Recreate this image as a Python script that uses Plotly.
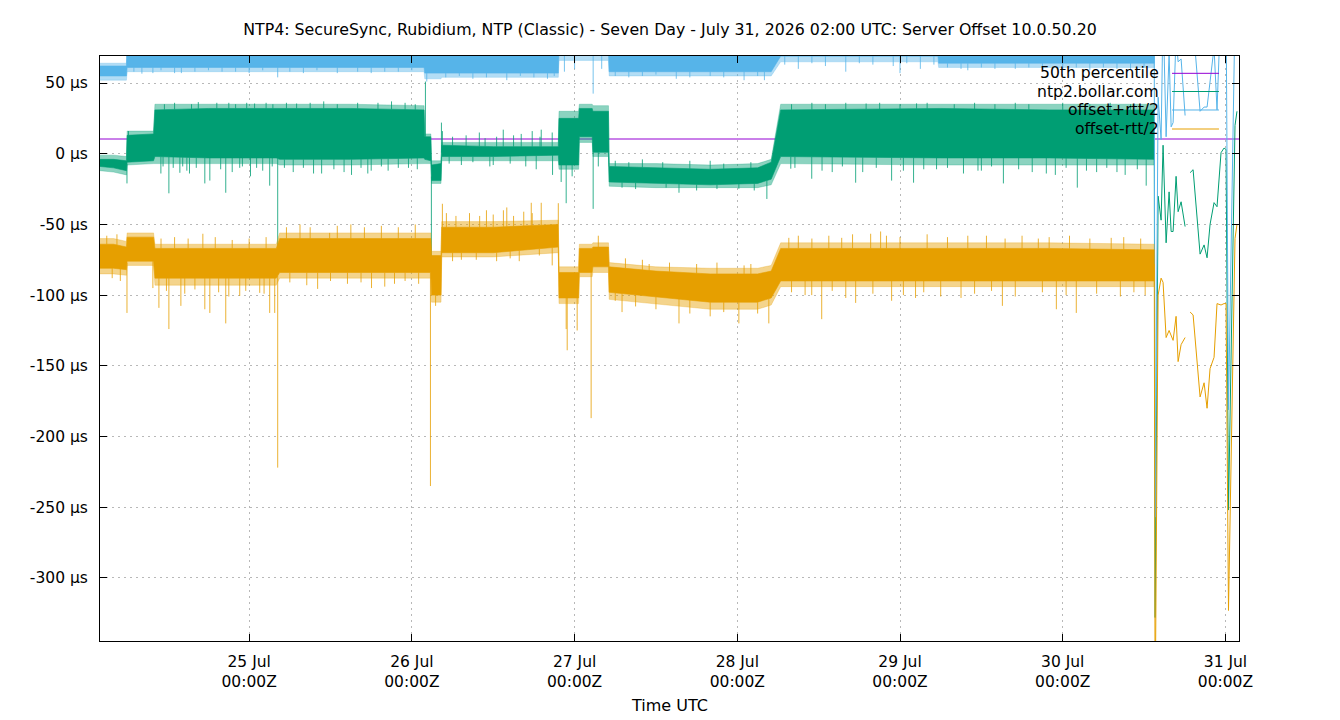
import numpy as np
import plotly.graph_objects as go

TITLE = ("NTP4: SecureSync, Rubidium, NTP (Classic) - Seven Day - "
         "July 31, 2026 02:00 UTC: Server Offset 10.0.50.20")

# time axis: hours since 2026-07-24 02:00 UTC
x_ticks = [22, 46, 70, 94, 118, 142, 166]
x_tick_labels = ["25 Jul<br>00:00Z", "26 Jul<br>00:00Z", "27 Jul<br>00:00Z",
                 "28 Jul<br>00:00Z", "29 Jul<br>00:00Z", "30 Jul<br>00:00Z",
                 "31 Jul<br>00:00Z"]
y_ticks = [50, 0, -50, -100, -150, -200, -250, -300]
y_tick_labels = ["50 µs", "0 µs", "-50 µs", "-100 µs", "-150 µs", "-200 µs",
                 "-250 µs", "-300 µs"]

p50_value = 10.4  # µs, 50th percentile

# ---------- ntp2.bollar.com offset (µs): dense band envelope ----------
green_t = [0, 2, 3.9, 4.0, 7.9, 8.1, 16, 26.0, 26.5, 37, 47.8, 47.9, 48.8, 48.9,
           50.3, 50.4, 58, 67.6, 67.7, 70.6, 70.7, 72.6, 72.7, 75.0, 75.1, 82,
           90, 97, 99.0, 100.4, 124, 140, 155.5]
green_lo = [-9, -10, -12, -6, -5, -2, -3, -3, -4, -4, -3, -4, -5, -19, -19, -2,
            -2, -1, -8, -8, 12, 12, 1, 1, -20, -21, -22, -21, -18, -2, -3, -3, -4]
green_hi = [-4, -4, -5, 13, 14, 31, 32, 32, 32, 32, 31, 12, 12, -8, -7, 6, 5, 5,
            25, 25, 32, 32, 30, 30, -9, -10, -11, -10, -6, 31, 32, 31, 31]
green_olo = [-12, -13, -15, -8, -7, -7, -7, -7, -8, -8, -7, -7, -7, -21, -21, -5,
             -5, -5, -11, -11, 8, 8, -2, -2, -23, -24, -24, -24, -22, -7, -8, -8, -8]
green_ohi = [-1, -1, -2, 16, 16, 35, 35, 35, 35, 35, 34, 14, 14, -5, -5, 8, 8, 8,
             30, 30, 35, 35, 34, 34, -7, -7, -8, -7, -4, 35, 35, 35, 35]
green_spike_t = [3.98, 4.2, 8.98, 10.16, 11.78, 12.81, 15.46, 16.2, 18.55, 20.61,
                 24.0, 25.03, 17.23, 21.64, 26.21, 32.69, 37.1, 40.0, 44.0, 48.0,
                 48.88, 50.36, 50.5, 55.95, 59.48, 62.13, 63.75, 65.08, 66.7,
                 64.34, 66.75, 53.3, 57.5, 68.02, 68.76, 69.64, 72.74, 73.5, 85.4,
                 94.23, 98.36, 80, 90, 101.89, 104.98, 111.46, 116.76, 120.0,
                 123.39, 120.44, 127.36, 133.25, 139.58, 140.91, 144.15, 151.21,
                 154.31, 108, 130, 147,
                 9.5, 11, 13.5, 14.5, 19, 20, 22.8, 24.5, 25.5,
                 9.3, 10.8, 12.2, 13.2, 14.2, 17.8, 19.5, 21, 22.2, 23.1, 25.4,
                 27.5, 29, 31, 33, 35, 38, 41, 43, 45, 46.5,
                 27.2, 28.5, 30, 31.5, 34.5, 36, 38.5, 39.5, 41.5, 42.5, 45.5, 46.8,
                 52, 54, 56.8, 58.5, 61, 64.9, 51.5, 55, 58, 60.5, 62.8,
                 76, 78, 83, 87, 92, 96, 77, 79, 83.5, 88, 91, 96.5,
                 102, 105, 107, 110, 113, 115, 118, 122, 126, 129, 132, 135, 137,
                 142, 146, 149, 152,
                 102.5, 106.5, 109.5, 112.5, 114.5, 118.5, 121.5, 125, 129.5,
                 131.5, 135.5, 137.5, 142.5, 145.5, 148.5, 150, 153]
green_spike_v = [-21, 16, -14, -28, -13.5, -12, -21, -19, -27.6, -10, -12, -22.6,
                 36, 36, -85, -14, -15, -12, -10, 51, -84, 22, 16, 15, 17, 14, 16,
                 17, 15, -11, -15, -8, -9, -20, -35, -16, -39, -9, -27.6, -24.8,
                 -32, -4, -5, -10.6, -17.7, -20.5, -19, -20.5, -11, 35.6, -14, -21,
                 -14, -15, -24, -15, -22.6, -13, -12, -13,
                 35, 36, 35, 36.5, 36, 35, 35.5, 36, 35,
                 -9, -10, -9, -14, -10, -11, -13, -9, -16, -10, -9,
                 36, 35.5, 36, 37, 35, 36, 36, 37, 36, 35,
                 -10, -13, -10, -14, -11, -13, -10, -14, -9, -12, -10, -11,
                 12, 13, 11, 12, 13, 12, -7, -6, -8, -7, -9,
                 -5, -6, -6, -5, -7, -6, -24, -25, -24, -26, -25, -26,
                 35, 36, 35, 36, 35.5, 36, 35, 36, 35, 36, 35, 36, 35,
                 36, 35, 36, 35,
                 -10, -12, -9, -13, -10, -12, -11, -10, -12,
                 -9, -11, -13, -10, -12, -10, -13, -11]

# ---------- offset-rtt/2 (µs) ----------
orange_t = [0, 2, 3.9, 4.0, 7.9, 8.1, 16, 26.0, 26.5, 37, 48.8, 48.9, 50.3, 50.4,
            58, 67.6, 67.7, 70.6, 70.7, 72.6, 72.7, 75.0, 75.1, 82, 90, 97, 99.0,
            100.4, 124, 140, 155.5]
orange_lo = [-81, -81, -82, -76, -76, -88, -88, -88, -84, -84, -84, -100, -100,
             -70, -70, -66, -102, -102, -84, -84, -80, -80, -98, -101, -105, -105,
             -102, -90, -90, -90, -90]
orange_hi = [-64, -64, -66, -59, -59, -67, -67, -67, -60, -60, -60, -72, -72, -52,
             -52, -50, -84, -84, -67, -67, -66, -66, -80, -83, -85, -85, -83, -67,
             -67, -67, -68]
orange_olo = [-85, -85, -86, -79, -79, -93, -93, -93, -88, -88, -88, -105, -105,
              -73, -73, -70, -106, -106, -87, -87, -84, -84, -103, -106, -110,
              -110, -107, -94, -94, -94, -94]
orange_ohi = [-60, -60, -62, -56, -56, -64, -64, -64, -56, -56, -56, -69, -69, -48,
              -48, -47, -80, -80, -64, -64, -63, -63, -77, -80, -81, -81, -79, -63,
              -63, -63, -64]
orange_spike_t = [3.98, 7.8, 8.69, 10.16, 11.93, 15.46, 16.2, 18.55, 20.61, 23.56,
                  25.03, 25.77, 15.17, 26.21, 32.1, 33.87, 43.44, 40.05, 48.74,
                  49.5, 50.5, 51.09, 63.61, 63.75, 65.08, 67.6, 61.84, 66.7, 53.3,
                  57, 60, 68.76, 68.91, 70.38, 72.44, 73.5, 85.4, 94.23, 98.65, 81,
                  95, 77, 101.6, 106.45, 111.46, 116.76, 120.29, 104.98, 113.67,
                  115.14, 109.4, 130.75, 133.1, 141.06, 144.0, 149.15, 138.4,
                  154.16, 127, 136,
                  1, 2.5, 1.8, 3,
                  9, 11, 13, 17, 19.5, 22, 24.5, 9.8, 12.5, 14, 17.5, 19, 21.5, 24.2,
                  27.5, 29.5, 31, 35, 37, 39, 41.5, 44, 46.5,
                  28, 30.5, 34, 36.5, 38.5, 42, 45, 47,
                  52.5, 54.5, 56, 58, 59.5, 61, 62.5, 52, 55.5, 58.5, 60.5, 64.8,
                  77.5, 80, 84, 88, 91, 96, 76, 79, 82, 87, 90, 92, 97,
                  103, 105, 107.5, 111, 116, 118, 122, 125, 128, 133.5, 140, 143,
                  146, 151, 153.5,
                  102, 104, 108, 110, 114, 118.5, 121.5, 124, 129, 131.5, 135,
                  139, 142.5, 147, 150.5, 152.5]
orange_spike_v = [-112.6, -95, -109, -124, -107.6, -110, -112.6, -120, -100.6,
                  -98.4, -112.6, -112.6, -56.6, -222, -95.6, -56, -92, -95, -235,
                  -107.6, -35.4, -42, -34.7, -42, -34.7, -35, -76, -79, -75, -40,
                  -38, -124, -139, -125, -187, -58, -120, -120, -120, -78, -79,
                  -112, -59.5, -117, -105.5, -104, -102, -100, -56.6, -55, -59.5,
                  -58, -107.6, -110, -112.6, -59.5, -60, -100, -102, -58,
                  -58, -57, -88, -90,
                  -60, -59, -60, -59, -61, -60, -59, -97, -99, -96, -98, -101, -97,
                  -99,
                  -52, -50, -52, -51, -50, -52, -51, -52, -50,
                  -91, -93, -90, -92, -91, -94, -90, -92,
                  -44, -42, -44, -43, -40, -44, -41, -76, -75, -76, -74, -72,
                  -74, -75, -77, -78, -77, -78, -104, -108, -110, -113, -115, -112,
                  -113,
                  -58, -60, -58, -57, -58, -59, -57, -59, -58, -60, -59, -58,
                  -60, -59, -60,
                  -98, -100, -97, -102, -99, -100, -98, -101, -99, -97, -101,
                  -98, -100, -99, -101, -98]

# ---------- offset+rtt/2 (µs) ----------
blue_t = [0, 3.9, 4.0, 47.8, 47.9, 50.3, 50.4, 67.6, 67.7, 75.0, 75.1, 99.0,
          100.4, 123.6, 123.7, 155.5]
blue_lo = [55, 55, 61, 61, 57, 57, 57, 57, 72, 72, 58, 58, 69, 69, 64, 64]
blue_hi = [62, 62, 80, 80, 75, 75, 75, 75, 85, 85, 75, 75, 85, 85, 80, 80]
blue_olo = [52, 52, 58, 58, 53, 53, 54, 54, 66, 66, 55, 55, 65, 65, 61, 61]
blue_ohi = [64, 64, 82, 82, 80, 80, 78, 78, 88, 88, 78, 78, 88, 88, 85, 85]
blue_spike_t = [6.18, 7.8, 26.21, 12, 18, 35, 42, 48.2, 55, 60, 66, 68.5, 70,
                72.74, 74, 85, 95, 98, 103, 110, 118, 121, 128, 135, 142, 150,
                5, 9, 11, 14, 16, 20, 22, 24, 28, 30, 32, 38, 40, 44, 46,
                51, 53, 57, 62, 64, 67, 76, 78, 80, 82, 87, 90, 92, 97,
                101, 105, 107, 112, 114, 117, 119, 123,
                125, 127, 130, 132, 137, 139, 144, 146, 148, 152, 154]
blue_spike_v = [56.6, 57, 54, 57, 58, 57, 58, 51, 53, 52, 53, 58, 60, 42.5, 60, 53,
                52, 52, 60, 58, 57, 60, 59, 60, 59, 60,
                58, 59, 57, 58, 59, 58, 57, 59, 58, 57, 59, 58, 57, 58, 59,
                54, 55, 54, 55, 54, 55, 55, 54, 55, 56, 54, 55, 54, 55,
                63, 64, 62, 64, 63, 62, 64, 63,
                61, 60, 61, 60, 61, 60, 61, 59, 61, 60, 61]

# ---------- sparse samples at the end of the window ----------
tail_t = [155.5, 155.63, 156.07, 156.51, 156.80, 157.25, 157.69, 157.99, 158.28,
          158.72, 159.02, 159.46, 160.05, None, 160.79, 161.23, 162.26, 162.85,
          163.29, 163.73, 164.32, 164.76, 165.35, 165.79, 166.09, 166.45, 167.41,
          167.7]
green_tail = [14, -328, -30, -47, 6, -63, -27, -55, -55, -16, -41, -34, -51.5,
              None, -13.4, -11.3, -71, -64.5, -73.6, -50, -34.6, -37.5, 0.7, 4,
              3, -252, 20, 30]
orange_tail = [-78, -399, -100, -88, -91, -130, -125, -129, -132, -115, -147, -135,
               -130, None, -112, -114, -172, -162, -180, -152, -144, -106, -107,
               -106, -106, -323, -60, -50]
blue_tail = [70, -257, 40, 10, 103, 12, 71, 19, 22, 83, 65, 67, 27, None, 85, 91,
             30, 33, 33, 52, 75, 31, 108, 114, 112, -181, 100, 110]

C_P50 = "#9400d3"
C_GREEN = "#009e73"
C_BLUE = "#56b4e9"
C_ORANGE = "#e69f00"
FONT = "DejaVu Sans"


def rgba(hex_color, a):
    h = hex_color.lstrip("#")
    r, g, b = int(h[0:2], 16), int(h[2:4], 16), int(h[4:6], 16)
    return f"rgba({r},{g},{b},{a})"


def band_trace(t, lo, hi, color):
    xs = list(t) + list(t)[::-1]
    ys = list(hi) + list(lo)[::-1]
    return go.Scatter(x=xs, y=ys, mode="lines", fill="toself", fillcolor=color,
                      line=dict(width=0.6, color=color), hoverinfo="skip",
                      showlegend=False)


def spike_trace(st, sv, t, lo, hi, color):
    t = np.asarray(t, float)
    lo = np.asarray(lo, float)
    hi = np.asarray(hi, float)
    xs, ys = [], []
    for a, v in zip(st, sv):
        mid = np.interp(a, t, (lo + hi) / 2)
        base = np.interp(a, t, hi) if v > mid else np.interp(a, t, lo)
        xs += [a, a, None]
        ys += [float(base), v, None]
    return go.Scatter(x=xs, y=ys, mode="lines", line=dict(width=1, color=color),
                      hoverinfo="skip", showlegend=False)


def tail_trace(tt, tv, color):
    return go.Scatter(x=tt, y=tv, mode="lines", line=dict(width=1, color=color),
                      connectgaps=False, hoverinfo="skip", showlegend=False)


fig = go.Figure()

# 50th percentile (drawn first, under the data)
fig.add_trace(go.Scatter(x=[0, 168], y=[p50_value, p50_value], mode="lines",
                         line=dict(width=1, color=C_P50), showlegend=False))

series = [
    (C_GREEN, green_t, green_lo, green_hi, green_olo, green_ohi,
     green_spike_t, green_spike_v, green_tail),
    (C_BLUE, blue_t, blue_lo, blue_hi, blue_olo, blue_ohi,
     blue_spike_t, blue_spike_v, blue_tail),
    (C_ORANGE, orange_t, orange_lo, orange_hi, orange_olo, orange_ohi,
     orange_spike_t, orange_spike_v, orange_tail),
]
for color, t, lo, hi, olo, ohi, st, sv, tail in series:
    fig.add_trace(band_trace(t, olo, ohi, rgba(color, 0.45)))
    fig.add_trace(band_trace(t, lo, hi, color))
    fig.add_trace(spike_trace(st, sv, t, lo, hi, rgba(color, 0.8)))
    fig.add_trace(tail_trace(tail_t, tail, color))

# key (gnuplot style, top right inside the plot)
legend_names = ["50th percentile", "ntp2.bollar.com", "offset+rtt/2", "offset-rtt/2"]
legend_colors = [C_P50, C_GREEN, C_BLUE, C_ORANGE]
legend_rows_y = [0.9704, 0.9393, 0.9077, 0.8752]
shapes = []
annotations = []
for name, col, yy in zip(legend_names, legend_colors, legend_rows_y):
    annotations.append(dict(text=name, xref="paper", yref="paper", x=0.9315, y=yy,
                            xanchor="right", yanchor="middle", showarrow=False,
                            font=dict(family=FONT, size=15.6, color="black")))
    shapes.append(dict(type="line", xref="paper", yref="paper", x0=0.9412,
                       x1=0.9824, y0=yy, y1=yy, line=dict(color=col, width=1)))

annotations.append(dict(text="Time UTC", xref="paper", yref="paper", x=0.5,
                        y=-0.111, xanchor="center", yanchor="middle",
                        showarrow=False,
                        font=dict(family=FONT, size=16, color="black")))

axis_common = dict(showline=True, linecolor="black", linewidth=1, mirror="ticks",
                   ticks="inside", ticklen=7, tickwidth=1, tickcolor="black",
                   showgrid=True, gridcolor="#b8b8b8", gridwidth=1,
                   griddash="2px,4px", zeroline=False,
                   tickfont=dict(family=FONT, size=15.5, color="black"))

fig.update_layout(
    width=1340, height=720,
    margin=dict(l=100, r=101, t=56, b=79),
    paper_bgcolor="white", plot_bgcolor="white",
    showlegend=False,
    title=dict(text=TITLE, x=0.5, xanchor="center", y=1 - 29 / 720,
               yanchor="middle", yref="container",
               font=dict(family=FONT, size=15.8, color="black")),
    xaxis=dict(range=[0, 168], tickvals=x_ticks, ticktext=x_tick_labels,
               ticklabelstandoff=6, **axis_common),
    yaxis=dict(range=[-344.6, 69.1], tickvals=y_ticks, ticktext=y_tick_labels,
               ticklabelstandoff=8, **axis_common),
    shapes=shapes,
    annotations=annotations,
)

fig.write_html("out.html")
